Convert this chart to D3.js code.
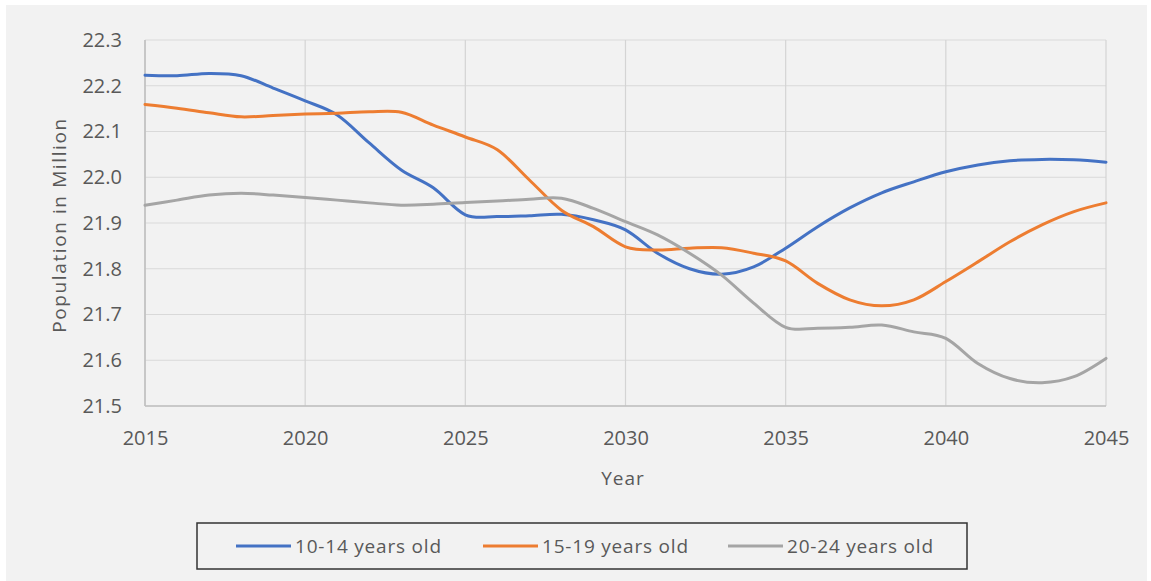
<!DOCTYPE html>
<html>
<head>
<meta charset="utf-8">
<script src="https://cdn.jsdelivr.net/npm/d3@7"></script>
<style>
  html, body { margin: 0; padding: 0; background: #ffffff; }
  svg { display: block; }
  text { font-family: "Open Sans", "DejaVu Sans", sans-serif; fill: #595959; }
</style>
</head>
<body>
<svg id="chart" width="1151" height="581"></svg>
<script>
// Projected population by age group, in millions
const years = d3.range(2015, 2046);

const age10to14 = [22.223, 22.222, 22.227, 22.222, 22.195, 22.167, 22.136, 22.075, 22.016, 21.977,
                   21.918, 21.914, 21.916, 21.919, 21.907, 21.885, 21.834, 21.80, 21.788, 21.804,
                   21.845, 21.892, 21.933, 21.966, 21.99, 22.012, 22.027, 22.036, 22.039, 22.038, 22.033];

const age15to19 = [22.159, 22.151, 22.141, 22.132, 22.135, 22.138, 22.14, 22.143, 22.142, 22.114,
                   22.088, 22.06, 21.994, 21.928, 21.892, 21.848, 21.841, 21.845, 21.846, 21.834,
                   21.817, 21.768, 21.732, 21.719, 21.732, 21.772, 21.815, 21.859, 21.896, 21.925, 21.944];

const age20to24 = [21.939, 21.95, 21.961, 21.965, 21.961, 21.956, 21.95, 21.944, 21.939, 21.941,
                   21.945, 21.948, 21.952, 21.954, 21.932, 21.903, 21.874, 21.834, 21.786, 21.725,
                   21.672, 21.67, 21.672, 21.677, 21.662, 21.648, 21.593, 21.56, 21.551, 21.564, 21.604];

const seriesNames = ["10-14 years old", "15-19 years old", "20-24 years old"];
const seriesValues = [age10to14, age15to19, age20to24];
const seriesColors = ["#4472C4", "#ED7D31", "#A5A5A5"];

const xTicks = [2015, 2020, 2025, 2030, 2035, 2040, 2045];
const yTicks = [21.5, 21.6, 21.7, 21.8, 21.9, 22.0, 22.1, 22.2, 22.3];

const svg = d3.select("#chart");

// chart background
svg.append("rect")
  .attr("x", 6).attr("y", 5)
  .attr("width", 1141).attr("height", 576)
  .attr("fill", "#f2f2f2");

const plot = { left: 145, right: 1106, top: 40, bottom: 406 };

const x = d3.scaleLinear().domain([2015, 2045]).range([plot.left, plot.right]);
const y = d3.scaleLinear().domain([21.5, 22.3]).range([plot.bottom, plot.top]);

// horizontal gridlines
svg.append("g")
  .selectAll("line")
  .data(yTicks)
  .join("line")
  .attr("x1", plot.left).attr("x2", plot.right)
  .attr("y1", d => y(d)).attr("y2", d => y(d))
  .attr("stroke", "#d9d9d9").attr("stroke-width", 1.2);

// vertical gridlines
svg.append("g")
  .selectAll("line")
  .data(xTicks)
  .join("line")
  .attr("x1", d => x(d)).attr("x2", d => x(d))
  .attr("y1", plot.top).attr("y2", plot.bottom)
  .attr("stroke", "#d4d4d4").attr("stroke-width", 1.2);

// axis lines
svg.append("line")
  .attr("x1", plot.left).attr("x2", plot.right)
  .attr("y1", plot.bottom).attr("y2", plot.bottom)
  .attr("stroke", "#bfbfbf").attr("stroke-width", 1.5);
svg.append("line")
  .attr("x1", plot.left).attr("x2", plot.left)
  .attr("y1", plot.top).attr("y2", plot.bottom)
  .attr("stroke", "#bfbfbf").attr("stroke-width", 1.5);

// y axis labels
const yAxis = d3.axisLeft(y).tickValues(yTicks).tickFormat(d3.format(".1f")).tickSize(0).tickPadding(0);
const gy = svg.append("g").attr("transform", `translate(122,0)`).call(yAxis);
gy.select(".domain").remove();
gy.selectAll("text")
  .attr("font-family", "Open Sans, DejaVu Sans, sans-serif")
  .attr("font-size", 20).attr("fill", "#595959");

// x axis labels
const xAxis = d3.axisBottom(x).tickValues(xTicks).tickFormat(d3.format("d")).tickSize(0).tickPadding(0);
const gx = svg.append("g").attr("transform", `translate(0,${plot.bottom})`).call(xAxis);
gx.select(".domain").remove();
gx.selectAll("text")
  .attr("font-family", "Open Sans, DejaVu Sans, sans-serif")
  .attr("font-size", 20).attr("fill", "#595959")
  .attr("dy", null).attr("y", 39);

// axis titles
svg.append("text")
  .attr("transform", "translate(66,225) rotate(-90)")
  .attr("text-anchor", "middle")
  .attr("font-size", 19)
  .attr("letter-spacing", 1.6)
  .text("Population in Million");

svg.append("text")
  .attr("x", 623).attr("y", 485)
  .attr("text-anchor", "middle")
  .attr("font-size", 19)
  .attr("letter-spacing", 1)
  .text("Year");

// series lines
const line = d3.line()
  .x((d, i) => x(years[i]))
  .y(d => y(d))
  .curve(d3.curveCatmullRom.alpha(0));

svg.append("g")
  .selectAll("path")
  .data(seriesValues)
  .join("path")
  .attr("d", d => line(d))
  .attr("fill", "none")
  .attr("stroke", (d, i) => seriesColors[i])
  .attr("stroke-width", 3)
  .attr("stroke-linejoin", "round")
  .attr("stroke-linecap", "round");

// legend
const legend = svg.append("g");
legend.append("rect")
  .attr("x", 197).attr("y", 523)
  .attr("width", 770).attr("height", 46)
  .attr("fill", "#f2f2f2")
  .attr("stroke", "#333333").attr("stroke-width", 1.5);

const legendX = [236, 483, 728];
const items = legend.selectAll("g.item")
  .data(seriesNames)
  .join("g")
  .attr("class", "item")
  .attr("transform", (d, i) => `translate(${legendX[i]},546)`);

items.append("line")
  .attr("x1", 0).attr("x2", 55)
  .attr("y1", 0).attr("y2", 0)
  .attr("stroke", (d, i) => seriesColors[i])
  .attr("stroke-width", 3);

items.append("text")
  .attr("x", 59).attr("y", 0).attr("dy", "0.35em")
  .attr("font-size", 19)
  .attr("letter-spacing", 0.8)
  .text(d => d);
</script>
</body>
</html>
